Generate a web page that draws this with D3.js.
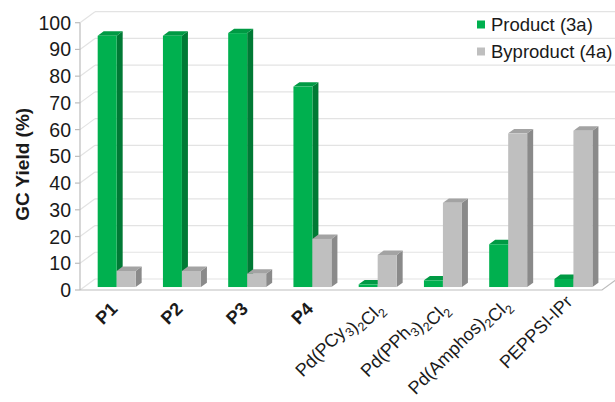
<!DOCTYPE html>
<html>
<head>
<meta charset="utf-8">
<script src="https://cdn.jsdelivr.net/npm/d3@7"></script>
<style>
  body { margin: 0; background: #fff; }
  svg { display: block; font-family: "Liberation Sans", Arial, sans-serif; }
</style>
</head>
<body>
<svg id="chart" width="615" height="402"></svg>
<script>
// categories and series values (GC yield, %)
const categories = ["P1", "P2", "P3", "P4", "Pd(PCy3)2Cl2", "Pd(PPh3)2Cl2", "Pd(Amphos)2Cl2", "PEPPSI-IPr"];
const productYield = [94, 94, 95, 75, 1, 2.5, 16, 3];
const byproductYield = [6, 6, 5, 18, 12, 31.5, 57.5, 58.5];
const seriesNames = ["Product (3a)", "Byproduct (4a)"];
const yTicks = [0, 10, 20, 30, 40, 50, 60, 70, 80, 90, 100];

// label pieces: [text, isSubscript]
const labelParts = {
  "P1": [["P1", false]],
  "P2": [["P2", false]],
  "P3": [["P3", false]],
  "P4": [["P4", false]],
  "Pd(PCy3)2Cl2": [["Pd(PCy", false], ["3", true], [")", false], ["2", true], ["Cl", false], ["2", true]],
  "Pd(PPh3)2Cl2": [["Pd(PPh", false], ["3", true], [")", false], ["2", true], ["Cl", false], ["2", true]],
  "Pd(Amphos)2Cl2": [["Pd(Amphos)", false], ["2", true], ["Cl", false], ["2", true]],
  "PEPPSI-IPr": [["PEPPSI-IPr", false]]
};
const boldLabels = ["P1", "P2", "P3", "P4"];

const colors = {
  "Product (3a)": { front: "#00b04f", side: "#007a35", top: "#009a44" },
  "Byproduct (4a)": { front: "#bfbfbf", side: "#8a8a8a", top: "#a3a3a3" }
};

const svg = d3.select("#chart");

// front plane of the 3D box
const left = 80, right = 602, floorY = 290;
const depthX = 15, depthY = -11;   // full depth offset of back wall
const d0 = 0.27, d1 = 0.67;        // bar depth span

const y = d3.scaleLinear().domain([0, 100]).range([floorY, 22.7]);
const x = d3.scaleBand().domain(categories).range([left, right]).paddingInner(0.418).paddingOuter(0.209);
const xs = d3.scaleBand().domain(seriesNames).range([0, x.bandwidth()]);

const pt = (px, v, d) => [px + depthX * d, y(v) + depthY * d];
const poly = pts => pts.map(p => p.join(",")).join(" ");

const grid = svg.append("g");
const wallColor = "#e3e3e3";

// back wall gridlines
yTicks.forEach(t => {
  const a = pt(left, t, 1), b = pt(right, t, 1);
  grid.append("line")
    .attr("x1", a[0]).attr("y1", a[1]).attr("x2", b[0]).attr("y2", b[1])
    .attr("stroke", wallColor).attr("stroke-width", 1.2);
  // left wall diagonals
  const c = pt(left, t, 0);
  grid.append("line")
    .attr("x1", c[0]).attr("y1", c[1]).attr("x2", a[0]).attr("y2", a[1])
    .attr("stroke", wallColor).attr("stroke-width", 1.2);
});

// floor edges
const f1 = pt(left, 0, 0), f2 = pt(right, 0, 0), f3 = pt(right, 0, 1);
svg.append("polyline")
  .attr("points", poly([f1, f2, f3]))
  .attr("fill", "none").attr("stroke", "#bdbdbd").attr("stroke-width", 1.2);

// y axis
const yAxis = svg.append("g");
yAxis.append("line")
  .attr("x1", left).attr("x2", left).attr("y1", y(100)).attr("y2", y(0))
  .attr("stroke", "#bdbdbd").attr("stroke-width", 1.2);
yTicks.forEach(t => {
  yAxis.append("line")
    .attr("x1", left - 5).attr("x2", left).attr("y1", y(t)).attr("y2", y(t))
    .attr("stroke", "#bdbdbd").attr("stroke-width", 1.2);
  yAxis.append("text")
    .attr("x", 71).attr("y", y(t))
    .attr("dy", "0.36em")
    .attr("text-anchor", "end")
    .attr("font-size", 19.5)
    .attr("fill", "#1a1a1a")
    .text(t);
});

svg.append("text")
  .attr("transform", `translate(29,${y(47)}) rotate(-90)`)
  .attr("text-anchor", "middle")
  .attr("font-size", 19)
  .attr("font-weight", "bold")
  .attr("fill", "#1a1a1a")
  .text("GC Yield (%)");

// bars
const bars = svg.append("g");
categories.forEach((cat, i) => {
  const vals = [productYield[i], byproductYield[i]];
  seriesNames.forEach((s, j) => {
    const v = vals[j];
    const x0 = x(cat) + xs(s), x1 = x0 + xs.bandwidth();
    const c = colors[s];
    // side face
    bars.append("polygon")
      .attr("points", poly([pt(x1, 0, d0), pt(x1, 0, d1), pt(x1, v, d1), pt(x1, v, d0)]))
      .attr("fill", c.side);
    // top face
    bars.append("polygon")
      .attr("points", poly([pt(x0, v, d0), pt(x1, v, d0), pt(x1, v, d1), pt(x0, v, d1)]))
      .attr("fill", c.top);
    // front face
    const a = pt(x0, v, d0), b = pt(x1, 0, d0);
    bars.append("rect")
      .attr("x", a[0]).attr("y", a[1])
      .attr("width", b[0] - a[0]).attr("height", b[1] - a[1])
      .attr("fill", c.front);
  });
});

// category labels, rotated
const xLab = svg.append("g");
categories.forEach(cat => {
  const bold = boldLabels.includes(cat);
  const fs = bold ? 18 : 18;
  const cx = x(cat) + x.bandwidth() / 2 + (bold ? 6 : 4);
  const t = xLab.append("text")
    .attr("transform", `translate(${cx},${bold ? 310 : 303}) rotate(-45)`)
    .attr("text-anchor", "end")
    .attr("font-size", fs)
    .attr("font-weight", bold ? "bold" : "normal")
    .attr("fill", "#1a1a1a");
  labelParts[cat].forEach(([txt, sub]) => {
    t.append("tspan")
      .attr("font-size", sub ? 12.5 : fs)
      .attr("dy", sub ? 5 : 0)
      .text(txt);
    if (sub) t.append("tspan").attr("dy", -5).text("");
  });
});

// legend
const legend = svg.append("g");
seriesNames.forEach((s, j) => {
  const ly = 24.5 + j * 27;
  legend.append("rect")
    .attr("x", 477).attr("y", ly - 4).attr("width", 8).attr("height", 8)
    .attr("fill", colors[s].front);
  legend.append("text")
    .attr("x", 491).attr("y", ly)
    .attr("dy", "0.36em")
    .attr("font-size", 18.5)
    .attr("fill", "#1a1a1a")
    .text(s);
});
</script>
</body>
</html>
